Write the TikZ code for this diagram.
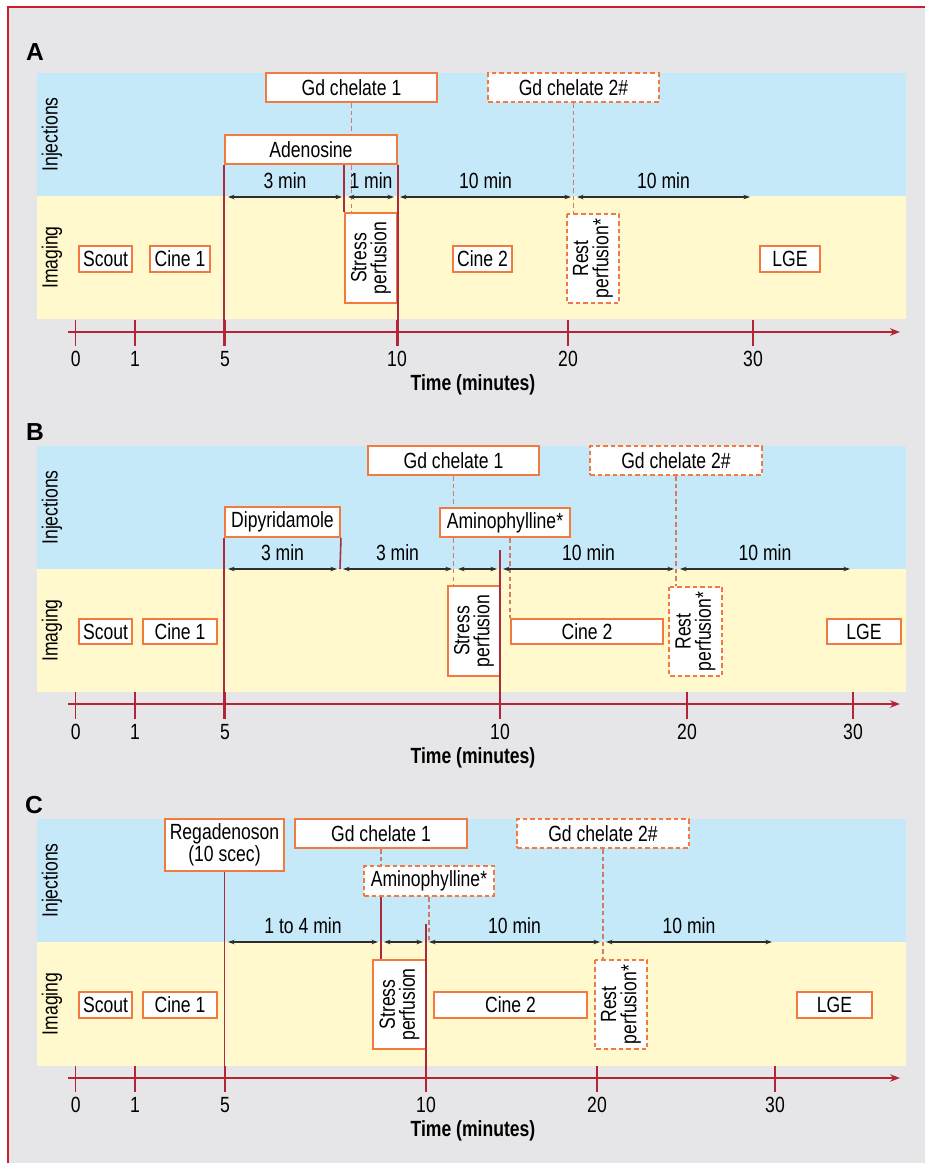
\documentclass[tikz,border=0pt]{standalone}
\usepackage{fontspec}
\setmainfont{Liberation Sans}[FakeStretch=0.8]
\newfontfamily\panelfont{Liberation Sans}
\usepackage{xcolor}
\definecolor{PanelGray}  {RGB}{230, 230, 232}
\definecolor{FrameRed}   {RGB}{200,  32,  44}
\definecolor{InjBlue}    {RGB}{198, 233, 250}
\definecolor{ImgYellow}  {RGB}{255, 249, 205}
\definecolor{BoxOrange}  {RGB}{242, 122,  62}
\definecolor{GuideRed}   {RGB}{205, 125, 105}
\definecolor{LineRed}    {RGB}{168,  44,  62}
\definecolor{AxisRed}    {RGB}{180,  36,  52}
\definecolor{DarkGray}   {RGB}{ 45,  45,  45}
\usepackage{tikz}
\usetikzlibrary{arrows.meta}

\begin{document}
\begin{tikzpicture}[
  x=0.2mm, y=-0.2mm,
  font=\fontsize{12.5}{11.5}\selectfont,
  evbox/.style={
    draw=BoxOrange, fill=white, line width=1.1pt,
    inner sep=0pt, align=center,
    minimum height=5.8mm},
  optional/.style={dash pattern=on 2.6pt off 1.7pt},
  upbox/.style={
    evbox, rotate=90,
    minimum width=17.9mm, minimum height=10.4mm},
  evline/.style={draw=LineRed, line width=0.9pt},
  guide/.style={
    draw=GuideRed, line width=0.9pt,
    dash pattern=on 2.6pt off 1.8pt},
  durarrow/.style={
    {Stealth[length=1.3mm, width=0.9mm]}-{Stealth[length=1.3mm, width=0.9mm]},
    line width=0.6pt, color=DarkGray,
    shorten <=0.6mm, shorten >=0.6mm},
  durlab/.style={midway, anchor=base, yshift=1.7mm, text=black},
  lane/.style={rotate=90},
  panellab/.style={font=\panelfont\bfseries\fontsize{14}{14}\selectfont},
  timeaxis/.style={
    -{Stealth[length=2mm, width=1.5mm]},
    line width=0.9pt, color=AxisRed},
  timetick/.style={line width=0.9pt, color=AxisRed},
  ticklab/.style={inner sep=0pt},
  axislab/.style={font=\bfseries\fontsize{12.5}{12}\selectfont}
]
\useasboundingbox (0,0) rectangle (925,1163);
\fill[white] (0,0) rectangle (925,1163);
\fill[PanelGray] (8,7) rectangle (925,1163);
\draw[FrameRed, line width=0.45mm] (8,1163) -- (8,7) -- (925,7);

% ---------- A: adenosine ----------
\node[panellab] (A-lab) at (35,52) {A};
\fill[InjBlue] (37,73) rectangle (906,196);
\fill[ImgYellow] (37,196) rectangle (906,319);
\node[lane] (A-inj) at (52,134.5) {Injections};
\node[lane] (A-img) at (52,257.5) {Imaging};

\coordinate (A-base) at (0,346);
\coordinate (A-d1) at (225,197);
\coordinate (A-d2) at (345,197);
\coordinate (A-d3) at (397,197);
\coordinate (A-d4) at (574,197);
\coordinate (A-d5) at (753,197);

\node[evbox, minimum width=34.2mm] (A-gd1) at (351.5,87.5) {Gd chelate 1};
\node[evbox, minimum width=34.4mm] (A-aden) at (311,149.5) {Adenosine};
\node[evbox, optional, minimum width=34.2mm] (A-gd2) at (573.5,87.5) {Gd chelate 2\#};
\node[upbox] (A-stress) at (371,258) {Stress\\perfusion};
\node[upbox, optional] (A-rest) at (593,258.5) {Rest\\perfusion*};
\node[evbox, minimum width=10.6mm, minimum height=5.2mm] (A-scout) at (105.5,259) {Scout};
\node[evbox, minimum width=12mm, minimum height=5.2mm] (A-cine1) at (180,259) {Cine 1};
\node[evbox, minimum width=11.8mm, minimum height=5.2mm] (A-cine2) at (482.5,259) {Cine 2};
\node[evbox, minimum width=12mm, minimum height=5.2mm] (A-lge) at (790,259) {LGE};

\draw[guide] (A-gd1.south) -- (A-gd1.south |- A-aden.north);
\draw[guide] (A-gd1.south |- A-aden.south) -- (A-gd1.south |- A-stress.east);
\draw[guide] (A-gd2.south) -- (A-gd2.south |- A-rest.east);
\draw[evline] (A-aden.south west) -- (A-aden.south west |- A-base);
\draw[evline] (A-aden.south east) -- (A-aden.south east |- A-base);
\draw[evline] (A-aden.south -| A-stress.north east) -- (A-stress.north east);

\draw[durarrow] (A-d1) -- node[durlab] (A-l1) {3 min} (A-d2);
\draw[durarrow] (A-d2) -- node[durlab] (A-l2) {1 min} (A-d3);
\draw[durarrow] (A-d3) -- node[durlab] (A-l3) {10 min} (A-d4);
\draw[durarrow] (A-d4) -- node[durlab] (A-l4) {10 min} (A-d5);

\coordinate (A-ax) at (68,332);
\draw[timeaxis] (A-ax) -- ++(832,0);
\foreach \t/\x in {0/75.7,1/135,5/225,10/397,20/568,30/753}{
  \draw[timetick] (\x,320) -- (\x,346);
  \node[ticklab] (A-t\t) at (\x,359) {\t};
}
\node[axislab] (A-time) at (473,385) {Time (minutes)};

% ---------- B: dipyridamole ----------
\node[panellab] (B-lab) at (35,432) {B};
\fill[InjBlue] (37,446) rectangle (906,569);
\fill[ImgYellow] (37,569) rectangle (906,692);
\node[lane] (B-inj) at (52,507.5) {Injections};
\node[lane] (B-img) at (52,630.5) {Imaging};

\coordinate (B-base) at (0,719);
\coordinate (B-d1) at (225,569);
\coordinate (B-d2) at (340,569);
\coordinate (B-d3) at (455,569);
\coordinate (B-d4) at (500,569);
\coordinate (B-d5) at (677,569);
\coordinate (B-d6) at (853,569);
\coordinate (B-top10) at (500,550);

\node[evbox, minimum width=34.2mm] (B-gd1) at (453.5,460.5) {Gd chelate 1};
\node[evbox, minimum width=23mm, minimum height=6mm] (B-dipy) at (282.5,522) {Dipyridamole};
\node[evbox, minimum width=26mm] (B-amino) at (505,522.5) {Aminophylline*};
\node[evbox, optional, minimum width=34.4mm] (B-gd2) at (676,460.5) {Gd chelate 2\#};
\node[upbox] (B-stress) at (474,631) {Stress\\perfusion};
\node[upbox, optional, minimum height=10.6mm] (B-rest) at (695.5,631.5) {Rest\\perfusion*};
\node[evbox, minimum width=10.6mm, minimum height=5mm] (B-scout) at (105.5,631.5) {Scout};
\node[evbox, minimum width=14.8mm, minimum height=5mm] (B-cine1) at (180,631.5) {Cine 1};
\node[evbox, minimum width=30.4mm, minimum height=5mm] (B-cine2) at (587,631.5) {Cine 2};
\node[evbox, minimum width=14.8mm, minimum height=5mm] (B-lge) at (864,631.5) {LGE};

\draw[guide] (B-gd1.south) -- (B-gd1.south |- B-amino.north);
\draw[guide] (B-gd1.south |- B-amino.south) -- (B-gd1.south |- B-stress.east);
\draw[guide] (B-gd2.south) -- (B-gd2.south |- B-rest.east);
\draw[guide] (B-amino.south -| B-cine2.north west) -- (B-cine2.north west);
\draw[evline] (B-dipy.south west) -- (B-dipy.south west |- B-base);
\draw[evline] (B-dipy.south east) -- (B-d2);
\draw[evline] (B-top10) -- (B-top10 |- B-base);

\draw[durarrow] (B-d1) -- node[durlab] (B-l1) {3 min} (B-d2);
\draw[durarrow] (B-d2) -- node[durlab] (B-l2) {3 min} (B-d3);
\draw[durarrow] (B-d3) -- (B-d4);
\draw[durarrow] (B-d4) -- node[durlab] (B-l3) {10 min} (B-d5);
\draw[durarrow] (B-d5) -- node[durlab] (B-l4) {10 min} (B-d6);

\coordinate (B-ax) at (68,704);
\draw[timeaxis] (B-ax) -- ++(832,0);
\foreach \t/\x in {0/75.7,1/135,5/225,10/500,20/687,30/853}{
  \draw[timetick] (\x,692) -- (\x,719);
  \node[ticklab] (B-t\t) at (\x,732) {\t};
}
\node[axislab] (B-time) at (473,758) {Time (minutes)};

% ---------- C: regadenoson ----------
\node[panellab] (C-lab) at (34,805) {C};
\fill[InjBlue] (37,819) rectangle (906,942);
\fill[ImgYellow] (37,942) rectangle (906,1066);
\node[lane] (C-inj) at (52,880.5) {Injections};
\node[lane] (C-img) at (52,1004) {Imaging};

\coordinate (C-base) at (0,1092);
\coordinate (C-d1) at (225,942);
\coordinate (C-d2) at (381,942);
\coordinate (C-d3) at (426,942);
\coordinate (C-d4) at (603,942);
\coordinate (C-d5) at (775,942);
\coordinate (C-top10) at (426,924);

\node[evbox, minimum width=23.8mm, minimum height=10.4mm] (C-rega) at (224.5,845) {Regadenoson\\(10 scec)};
\node[evbox, minimum width=34.4mm] (C-gd1) at (381,833.5) {Gd chelate 1};
\node[evbox, optional, minimum width=26mm, minimum height=6mm] (C-amino) at (429,881) {Aminophylline*};
\node[evbox, optional, minimum width=34.4mm] (C-gd2) at (603,833.5) {Gd chelate 2\#};
\node[upbox, minimum height=10.6mm] (C-stress) at (399.5,1004.5) {Stress\\perfusion};
\node[upbox, optional] (C-rest) at (621,1004.5) {Rest\\perfusion*};
\node[evbox, minimum width=10.6mm, minimum height=5.2mm] (C-scout) at (105.5,1005) {Scout};
\node[evbox, minimum width=14.8mm, minimum height=5.2mm] (C-cine1) at (180,1005) {Cine 1};
\node[evbox, minimum width=30.6mm, minimum height=5.2mm] (C-cine2) at (510.5,1005) {Cine 2};
\node[evbox, minimum width=15mm, minimum height=5.2mm] (C-lge) at (834.5,1005) {LGE};

\draw[guide] (C-gd1.south) -- (C-gd1.south |- C-amino.north);
\draw[evline] (C-gd1.south |- C-amino.south) -- (C-gd1.south |- C-stress.east);
\draw[guide] (C-amino.south) -- (C-amino.south |- C-d3);
\draw[guide] (C-gd2.south) -- (C-gd2.south |- C-rest.east);
\draw[evline] (C-rega.south) -- (C-rega.south |- C-base);
\draw[evline] (C-top10) -- (C-top10 |- C-base);

\draw[durarrow] (C-d1) -- node[durlab] (C-l1) {1 to 4 min} (C-d2);
\draw[durarrow] (C-d2) -- (C-d3);
\draw[durarrow] (C-d3) -- node[durlab] (C-l2) {10 min} (C-d4);
\draw[durarrow] (C-d4) -- node[durlab] (C-l3) {10 min} (C-d5);

\coordinate (C-ax) at (68,1078);
\draw[timeaxis] (C-ax) -- ++(832,0);
\foreach \t/\x in {0/75.7,1/135,5/225,10/426,20/597,30/775}{
  \draw[timetick] (\x,1066) -- (\x,1092);
  \node[ticklab] (C-t\t) at (\x,1105) {\t};
}
\node[axislab] (C-time) at (473,1131) {Time (minutes)};
\end{tikzpicture}
\end{document}
